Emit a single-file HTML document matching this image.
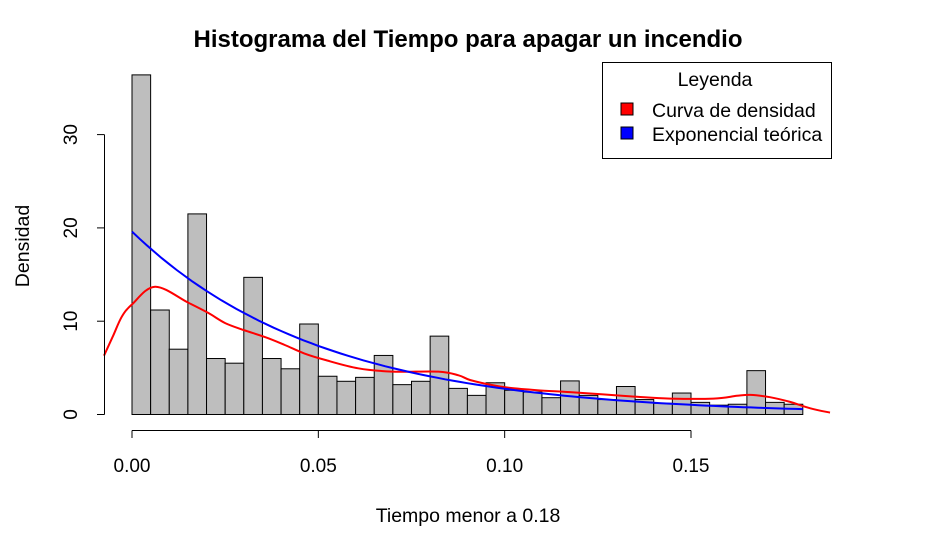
<!DOCTYPE html>
<html><head><meta charset="utf-8"><style>
body{margin:0;background:#fff}
svg{display:block;font-family:"Liberation Sans",Arial,sans-serif}
</style></head><body>
<svg id="chart" width="936" height="542">
<text x="468" y="47" text-anchor="middle" font-size="24" font-weight="bold">Histograma del Tiempo para apagar un incendio</text>
<g id="bars"></g>
<g id="curves"></g>
<g id="xaxis"></g>
<g id="yaxis"></g>
<text x="468" y="522" text-anchor="middle" font-size="19.5">Tiempo menor a 0.18</text>
<text transform="translate(29,246) rotate(-90)" text-anchor="middle" font-size="19.5">Densidad</text>
<g>
<rect x="602.5" y="62.5" width="229" height="96" fill="#fff" stroke="#000"/>
<text x="715" y="86" text-anchor="middle" font-size="19.5">Leyenda</text>
<rect x="621" y="103" width="12" height="12" fill="red" stroke="#000"/>
<text x="652" y="117" font-size="19.5">Curva de densidad</text>
<rect x="621" y="127" width="12" height="12" fill="blue" stroke="#000"/>
<text x="652" y="141" font-size="19.5">Exponencial teórica</text>
</g>
</svg>
<script>
const binStart = 0, binWidth = 0.005;
const barHeights = [36.4,11.2,7.0,21.5,6.0,5.5,14.7,6.0,4.9,9.7,4.1,3.56,3.98,6.33,3.2,3.56,8.4,2.8,2.05,3.4,2.6,2.4,1.8,3.6,2.05,1.6,3.0,1.6,1.2,2.3,1.3,1.0,1.1,4.7,1.3,1.1];
const densX = [-0.0075,-0.005,-0.0027,0,0.0062,0.015,0.0204,0.025,0.030,0.0357,0.041,0.0462,0.0518,0.0607,0.0698,0.0822,0.0876,0.0907,0.096,0.1014,0.1087,0.1175,0.1264,0.1355,0.1444,0.156,0.1623,0.166,0.1712,0.1766,0.182,0.1873];
const densY = [6.3,8.5,10.5,11.8,13.7,12.0,10.9,9.8,9.05,8.3,7.45,6.55,5.85,4.95,4.6,4.6,4.2,3.7,3.2,2.85,2.6,2.4,2.15,1.9,1.7,1.7,2.0,2.1,1.85,1.35,0.66,0.2];
const expRate = 19.6;
const xTicks = [0,0.05,0.10,0.15];
const xTickLabels = ["0.00","0.05","0.10","0.15"];
const yTicks = [0,10,20,30];
const yTickLabels = ["0","10","20","30"];

const X = v => 132 + v*(691-132)/0.15;
const Y = v => 414.5 - v*9.33;
const NS = "http://www.w3.org/2000/svg";
function mk(tag, attrs, parent){const e=document.createElementNS(NS,tag);for(const k in attrs)e.setAttribute(k,attrs[k]);parent.appendChild(e);return e;}

const bars = document.getElementById('bars');
barHeights.forEach((h,i)=>{
  const x0 = X(binStart+i*binWidth), x1 = X(binStart+(i+1)*binWidth);
  const r = mk('rect',{x:x0,y:Y(h),width:x1-x0,height:Y(0)-Y(h),fill:'#bebebe',stroke:'#000','stroke-width':1},bars);
  
  
});

const curves = document.getElementById('curves');
const P = densX.map((x,i)=>[X(x),Y(densY[i])]);
let d = 'M'+P[0][0].toFixed(1)+','+P[0][1].toFixed(1);
for(let i=0;i<P.length-1;i++){
  const p0=P[Math.max(0,i-1)],p1=P[i],p2=P[i+1],p3=P[Math.min(P.length-1,i+2)];
  const c1=[p1[0]+(p2[0]-p0[0])/6,p1[1]+(p2[1]-p0[1])/6];
  const c2=[p2[0]-(p3[0]-p1[0])/6,p2[1]-(p3[1]-p1[1])/6];
  d+=` C${c1[0].toFixed(1)},${c1[1].toFixed(1)} ${c2[0].toFixed(1)},${c2[1].toFixed(1)} ${p2[0].toFixed(1)},${p2[1].toFixed(1)}`;
}
const red = mk('path',{d:d,fill:'none',stroke:'red','stroke-width':2,'stroke-linejoin':'round'},curves);


let pts=[];
for(let i=0;i<=90;i++){const x=i*0.002;pts.push((i?'L':'M')+X(x).toFixed(1)+','+Y(expRate*Math.exp(-expRate*x)).toFixed(1));}
const blue = mk('path',{d:pts.join(' '),fill:'none',stroke:'blue','stroke-width':2},curves);



const xa = document.getElementById('xaxis');
mk('line',{x1:X(xTicks[0]),x2:X(xTicks[xTicks.length-1]),y1:430.5,y2:430.5,stroke:'#000'},xa);
xTicks.forEach((t,i)=>{
  mk('line',{x1:X(t),x2:X(t),y1:430.5,y2:438,stroke:'#000'},xa);
  const tx = mk('text',{x:X(t),y:472,'text-anchor':'middle','font-size':19},xa);
  tx.textContent = xTickLabels[i];
  
  
});
const ya = document.getElementById('yaxis');
mk('line',{x1:104.5,x2:104.5,y1:Y(yTicks[0]),y2:Y(yTicks[yTicks.length-1]),stroke:'#000'},ya);
yTicks.forEach((t,i)=>{
  mk('line',{x1:97,x2:104.5,y1:Y(t),y2:Y(t),stroke:'#000'},ya);
  const tx = mk('text',{transform:`translate(77,${Y(t)}) rotate(-90)`,'text-anchor':'middle','font-size':19},ya);
  tx.textContent = yTickLabels[i];
  
  
});
</script>
</body></html>
